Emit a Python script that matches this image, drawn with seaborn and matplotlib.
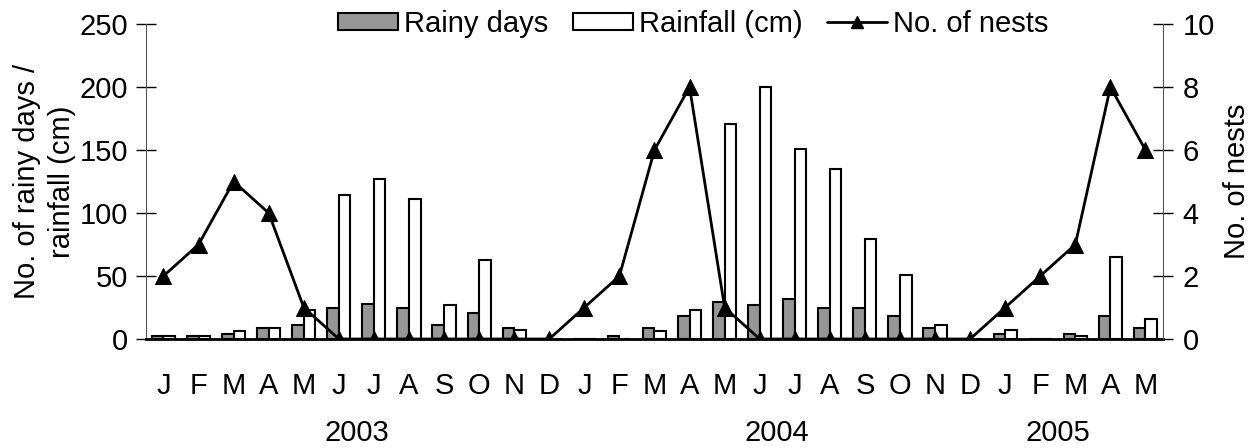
import pandas as pd
import numpy as np
import matplotlib
matplotlib.use("Agg")
import matplotlib.pyplot as plt
import matplotlib.transforms as mtransforms
from matplotlib.patches import Patch
from matplotlib.lines import Line2D
import seaborn as sns

# data, Jan 2003 - May 2005
months = ["J", "F", "M", "A", "M", "J", "J", "A", "S", "O", "N", "D",
          "J", "F", "M", "A", "M", "J", "J", "A", "S", "O", "N", "D",
          "J", "F", "M", "A", "M"]
rainy_days = [2, 2, 4, 9, 11, 25, 28, 25, 11, 21, 9, 0,
              0, 2, 9, 18, 29, 27, 32, 25, 25, 18, 9, 0,
              4, 0, 4, 18, 9]
rainfall = [2, 2, 6, 9, 23, 114, 127, 111, 27, 63, 7, 0,
            0, 0, 6, 23, 171, 200, 151, 135, 79, 51, 11, 0,
            7, 0, 2, 65, 16]
nests = [2, 3, 5, 4, 1, 0, 0, 0, 0, 0, 0, 0,
         1, 2, 6, 8, 1, 0, 0, 0, 0, 0, 0, 0,
         1, 2, 3, 8, 6]
years = ["2003", "2004", "2005"]
year_pos = [5.5, 17.5, 25.5]

idx = list(range(len(months)))
df = pd.DataFrame({"idx": idx * 2,
                   "value": rainy_days + rainfall,
                   "series": ["Rainy days"] * len(idx) + ["Rainfall (cm)"] * len(idx)})

sns.set_style("white")
plt.rcParams["font.family"] = ["Liberation Sans", "DejaVu Sans"]
plt.rcParams["font.size"] = 21
plt.rcParams["text.color"] = "black"
plt.rcParams["axes.labelcolor"] = "black"
plt.rcParams["xtick.color"] = "black"
plt.rcParams["ytick.color"] = "black"

fig = plt.figure(figsize=(12.55, 4.48), dpi=100)
ax = fig.add_axes([0.1163, 0.2433, 0.8104, 0.7031])

sns.barplot(data=df, x="idx", y="value", hue="series", ax=ax,
            palette=["#969696", "white"], edgecolor="black", linewidth=1.5,
            width=0.66, legend=False, errorbar=None)

ax.set_xlim(-0.5, len(months) - 0.5)
ax.set_ylim(0, 250)
ax.set_yticks(range(0, 251, 50))
ax.set_xticks(idx)
ax.set_xticklabels(months)
ax.set_xticks(np.arange(-0.5, len(months), 1), minor=True)
ax.tick_params(axis="x", which="major", length=0, pad=24)
ax.tick_params(axis="x", which="minor", length=13, direction="inout", width=1)
ax.tick_params(axis="y", length=14, direction="inout", width=1, pad=6)
ax.set_xlabel("")
ax.set_ylabel("No. of rainy days /\nrainfall (cm)", labelpad=2, linespacing=1.35)
ax.spines["top"].set_visible(False)
ax.spines["bottom"].set_linewidth(2)
ax.spines["bottom"].set_color("black")
ax.spines["left"].set_color("#555555")
ax.spines["right"].set_visible(False)

ax2 = ax.twinx()
sns.lineplot(x=idx, y=nests, ax=ax2, color="black", marker="^",
             markersize=11, linewidth=2, markeredgecolor="black")
ax2.set_ylim(0, 10)
ax2.set_yticks(range(0, 11, 2))
ax2.tick_params(axis="y", length=14, direction="inout", width=1, pad=7)
ax2.set_ylabel("No. of nests", labelpad=6)
ax2.spines["top"].set_visible(False)
ax2.spines["left"].set_visible(False)
ax2.spines["bottom"].set_visible(False)
ax2.spines["right"].set_color("#555555")

trans = mtransforms.blended_transform_factory(ax.transData, ax.transAxes)
for yr, xp in zip(years, year_pos):
    ax.text(xp, -0.298, yr, transform=trans, ha="center", va="center")

handles = [Patch(facecolor="#969696", edgecolor="black", linewidth=1.5),
           Patch(facecolor="white", edgecolor="black", linewidth=1.5),
           Line2D([], [], color="black", marker="^", markersize=9, linewidth=2)]
ax2.legend(handles, ["Rainy days", "Rainfall (cm)", "No. of nests"],
           loc="center", bbox_to_anchor=(0.538, 1.0), ncol=3, frameon=False,
           handlelength=2.05, handleheight=0.55, handletextpad=0.2,
           columnspacing=0.85, borderaxespad=0, borderpad=0)

fig.savefig("out.png", dpi=100)
